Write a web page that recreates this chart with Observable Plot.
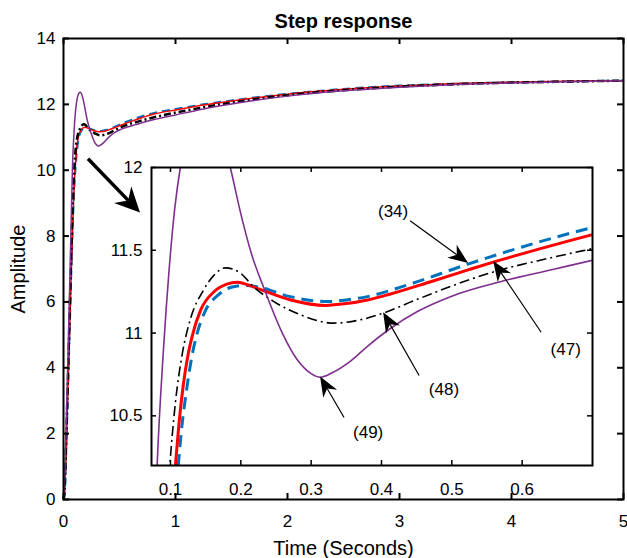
<!DOCTYPE html>
<html><head><meta charset="utf-8">
<script src="https://cdn.jsdelivr.net/npm/d3@7"></script>
<script src="https://cdn.jsdelivr.net/npm/@observablehq/plot@0.6"></script>
<style>
html,body{margin:0;padding:0;background:#fff;}
#chart{position:relative;width:627px;height:558px;}
#chart svg{position:absolute;left:0;top:0;}
</style></head><body><div id="chart"></div>
<script>
// ---- data ----
const title = "Step response";
const xLabel = "Time (Seconds)";
const yLabel = "Amplitude";

const mainXTicks = [0, 1, 2, 3, 4, 5];
const mainYTicks = [0, 2, 4, 6, 8, 10, 12, 14];
const insetXTicks = [0.1, 0.2, 0.3, 0.4, 0.5, 0.6];
const insetYTicks = [10.5, 11, 11.5, 12];

// (34) blue dashed
const t34 = [0, 0.01, 0.02, 0.03, 0.04, 0.05, 0.06, 0.07, 0.08, 0.09, 0.1, 0.111, 0.116, 0.123, 0.13, 0.138, 0.149, 0.168, 0.185, 0.204, 0.223, 0.27, 0.323, 0.35, 0.38, 0.44, 0.522, 0.6, 0.693, 0.8, 1.0, 1.25, 1.5, 2, 2.5, 3, 3.5, 4, 4.5, 5];
const y34 = [0, 0.15, 1.0, 2.1, 3.3, 4.5, 5.7, 6.9, 8.0, 8.95, 9.7, 10.2, 10.43, 10.66, 10.85, 11.0, 11.13, 11.23, 11.275, 11.287, 11.28, 11.22, 11.19, 11.2, 11.22, 11.295, 11.415, 11.52, 11.63, 11.73, 11.86, 12.0, 12.12, 12.32, 12.47, 12.57, 12.63, 12.67, 12.7, 12.72];
// (47) red solid
const t47 = [0, 0.01, 0.02, 0.03, 0.04, 0.05, 0.06, 0.07, 0.08, 0.09, 0.1, 0.107, 0.112, 0.118, 0.125, 0.132, 0.143, 0.162, 0.18, 0.195, 0.223, 0.271, 0.32, 0.35, 0.38, 0.413, 0.47, 0.522, 0.56, 0.626, 0.7, 0.8, 1.0, 1.25, 1.5, 2, 2.5, 3, 3.5, 4, 4.5, 5];
const y47 = [0, 0.2, 1.1, 2.2, 3.4, 4.6, 5.8, 7.0, 8.1, 9.1, 9.85, 10.2, 10.45, 10.68, 10.87, 11.0, 11.14, 11.25, 11.295, 11.307, 11.27, 11.2, 11.167, 11.178, 11.2, 11.236, 11.31, 11.38, 11.43, 11.51, 11.595, 11.7, 11.83, 11.98, 12.1, 12.31, 12.46, 12.56, 12.63, 12.67, 12.7, 12.72];
// (48) black dash-dot
const t48 = [0, 0.01, 0.02, 0.03, 0.04, 0.05, 0.06, 0.07, 0.08, 0.09, 0.099, 0.107, 0.117, 0.128, 0.147, 0.162, 0.178, 0.2, 0.218, 0.247, 0.285, 0.332, 0.37, 0.402, 0.446, 0.494, 0.56, 0.636, 0.7, 0.8, 1.0, 1.25, 1.5, 2, 2.5, 3, 3.5, 4, 4.5, 5];
const y48 = [0, 0.3, 1.3, 2.5, 3.7, 5.0, 6.3, 7.5, 8.7, 9.6, 10.2, 10.58, 10.88, 11.08, 11.26, 11.35, 11.394, 11.36, 11.28, 11.19, 11.11, 11.06, 11.08, 11.12, 11.195, 11.275, 11.37, 11.45, 11.51, 11.6, 11.75, 11.91, 12.05, 12.28, 12.43, 12.54, 12.61, 12.66, 12.69, 12.72];
// (49) purple solid
const t49 = [0, 0.01, 0.02, 0.03, 0.04, 0.05, 0.06, 0.07, 0.081, 0.09, 0.098, 0.106, 0.114, 0.125, 0.14, 0.15, 0.16, 0.172, 0.185, 0.2, 0.215, 0.233, 0.259, 0.28, 0.3, 0.313, 0.33, 0.356, 0.38, 0.41, 0.451, 0.498, 0.569, 0.645, 0.7, 0.8, 1.0, 1.25, 1.5, 2, 2.5, 3, 3.5, 4, 4.5, 5];
const y49 = [0, 0.6, 1.8, 3.1, 4.4, 5.8, 7.2, 8.7, 10.2, 10.9, 11.38, 11.75, 12.0, 12.22, 12.35, 12.37, 12.33, 12.2, 12.0, 11.72, 11.48, 11.27, 11.0, 10.84, 10.755, 10.733, 10.76, 10.83, 10.92, 11.02, 11.13, 11.22, 11.31, 11.385, 11.44, 11.53, 11.68, 11.86, 12.01, 12.25, 12.41, 12.52, 12.6, 12.65, 12.69, 12.72];

// annotations inside the inset (inset data coordinates)
const annLabel = ["(34)", "(47)", "(48)", "(49)"];
const annTextX = [0.4165, 0.6619, 0.4888, 0.381];
const annTextY = [11.732, 10.902, 10.661, 10.397];
const annTailX = [0.4414, 0.6277, 0.4542, 0.3475];
const annTailY = [11.675, 11.002, 10.741, 10.487];
const annTipX = [0.5239, 0.5595, 0.403, 0.3134];
const annTipY = [11.42, 11.432, 11.123, 10.735];

// zoom arrow in the main plot (main data coordinates)
const zoomArrowTail = [0.2232, 10.333];
const zoomArrowTip = [0.6875, 8.697];

// ---- build ----
const W = 627, H = 558;
const font = "'Liberation Sans', Arial, Helvetica, sans-serif";
const rows = (t, y) => t.map((d, i) => ({t: d, v: y[i]}));
const r34 = rows(t34, y34), r47 = rows(t47, y47), r48 = rows(t48, y48), r49 = rows(t49, y49);
const ann = annLabel.map((l, i) => ({label: l, x: annTextX[i], y: annTextY[i]}));

function drawArrow(g, x0, y0, x1, y1, L, Wd, notch, sw) {
  const dx = x1 - x0, dy = y1 - y0, len = Math.hypot(dx, dy);
  const ux = dx / len, uy = dy / len, nx = -uy, ny = ux;
  const bx = x1 - ux * L, by = y1 - uy * L;
  const kx = x1 - ux * notch, ky = y1 - uy * notch;
  g.append("line").attr("x1", x0).attr("y1", y0).attr("x2", kx).attr("y2", ky)
    .attr("stroke", "black").attr("stroke-width", sw);
  g.append("path")
    .attr("d", `M${x1},${y1}L${bx + nx * Wd},${by + ny * Wd}L${kx},${ky}L${bx - nx * Wd},${by - ny * Wd}Z`)
    .attr("fill", "black");
}

function arrowsMark(tails, tips, L, Wd, notch, sw) {
  return (index, scales) => {
    const g = d3.create("svg:g");
    tails.forEach((tl, i) => {
      const tp = tips[i];
      drawArrow(g, scales.x(tl[0]), scales.y(tl[1]), scales.x(tp[0]), scales.y(tp[1]), L, Wd, notch, sw);
    });
    return g.node();
  };
}

const mL = 63, mR = 4, mT = 38, mB = 59;
const fw = W - mL - mR, fh = H - mT - mB;

const main = Plot.plot({
  width: W, height: H,
  marginLeft: mL, marginRight: mR, marginTop: mT, marginBottom: mB,
  style: {fontFamily: font, fontSize: "17px", background: "white", overflow: "visible", color: "black"},
  x: {domain: [0, 5]},
  y: {domain: [0, 14]},
  marks: [
    Plot.line(r34, {x: "t", y: "v", stroke: "#0072BD", strokeWidth: 2, strokeDasharray: "8,5", strokeLinecap: "butt", curve: "monotone-x"}),
    Plot.line(r47, {x: "t", y: "v", stroke: "#FF0000", strokeWidth: 1.5, curve: "monotone-x"}),
    Plot.line(r48, {x: "t", y: "v", stroke: "black", strokeWidth: 2.5, strokeDasharray: "7,3,2,3", strokeLinecap: "butt", curve: "monotone-x"}),
    Plot.line(r49, {x: "t", y: "v", stroke: "#7E2F8E", strokeWidth: 1.5, curve: "monotone-x"}),
    Plot.frame({strokeWidth: 2}),
    Plot.tickX(mainXTicks, {x: d => d, insetTop: fh - 6, strokeWidth: 2}),
    Plot.tickX(mainXTicks, {x: d => d, insetBottom: fh - 6, strokeWidth: 2}),
    Plot.tickY(mainYTicks, {y: d => d, insetLeft: fw - 6, strokeWidth: 2}),
    Plot.tickY(mainYTicks, {y: d => d, insetRight: fw - 6, strokeWidth: 2}),
    Plot.axisX({ticks: mainXTicks, tickSize: 0, tickPadding: 15, label: null, fontSize: 17, tickFormat: d => String(d)}),
    Plot.axisY({ticks: mainYTicks, tickSize: 0, tickPadding: 8, label: null, fontSize: 17, tickFormat: d => String(d)}),
    Plot.text([title], {frameAnchor: "top", dy: -16.5, lineAnchor: "middle", textAnchor: "middle", fontWeight: "bold", fontSize: 20}),
    Plot.text([xLabel], {frameAnchor: "bottom", dy: 49, lineAnchor: "middle", textAnchor: "middle", fontSize: 20}),
    Plot.text([yLabel], {frameAnchor: "left", dx: -45, rotate: -90, lineAnchor: "middle", textAnchor: "middle", fontSize: 20}),
    arrowsMark([zoomArrowTail], [zoomArrowTip], 25, 12, 17, 3.5)
  ]
});

const iL = 151, iR = 35, iT = 167, iB = 93;
const iw = W - iL - iR, ih = H - iT - iB;

const inset = Plot.plot({
  width: W, height: H,
  marginLeft: iL, marginRight: iR, marginTop: iT, marginBottom: iB,
  style: {fontFamily: font, fontSize: "17px", background: "transparent", overflow: "visible", color: "black"},
  x: {domain: [0.073, 0.7]},
  y: {domain: [10.2, 12]},
  marks: [
    Plot.frame({fill: "white"}),
    Plot.line(r34, {x: "t", y: "v", stroke: "#0072BD", strokeWidth: 3, strokeDasharray: "12,7", strokeLinecap: "butt", curve: "monotone-x", clip: true}),
    Plot.line(r47, {x: "t", y: "v", stroke: "#FF0000", strokeWidth: 3, curve: "monotone-x", clip: true}),
    Plot.line(r48, {x: "t", y: "v", stroke: "black", strokeWidth: 1.6, strokeDasharray: "10,4,2,4", strokeLinecap: "butt", curve: "monotone-x", clip: true}),
    Plot.line(r49, {x: "t", y: "v", stroke: "#7E2F8E", strokeWidth: 1.6, curve: "monotone-x", clip: true}),
    Plot.frame({strokeWidth: 2}),
    Plot.tickX(insetXTicks, {x: d => d, insetTop: ih - 5, strokeWidth: 1.5}),
    Plot.tickX(insetXTicks, {x: d => d, insetBottom: ih - 5, strokeWidth: 1.5}),
    Plot.tickY(insetYTicks, {y: d => d, insetLeft: iw - 5, strokeWidth: 1.5}),
    Plot.tickY(insetYTicks, {y: d => d, insetRight: iw - 5, strokeWidth: 1.5}),
    Plot.axisX({ticks: insetXTicks, tickSize: 0, tickPadding: 17, label: null, fontSize: 17, tickFormat: d => String(d)}),
    Plot.axisY({ticks: insetYTicks, tickSize: 0, tickPadding: 9, label: null, fontSize: 17, tickFormat: d => String(d)}),
    Plot.text(ann, {x: "x", y: "y", text: "label", fontSize: 17}),
    arrowsMark(annTailX.map((x, i) => [x, annTailY[i]]), annTipX.map((x, i) => [x, annTipY[i]]), 20, 8, 14, 1.2)
  ]
});

const chart = document.getElementById("chart");
chart.appendChild(main);
chart.appendChild(inset);
</script></body></html>
